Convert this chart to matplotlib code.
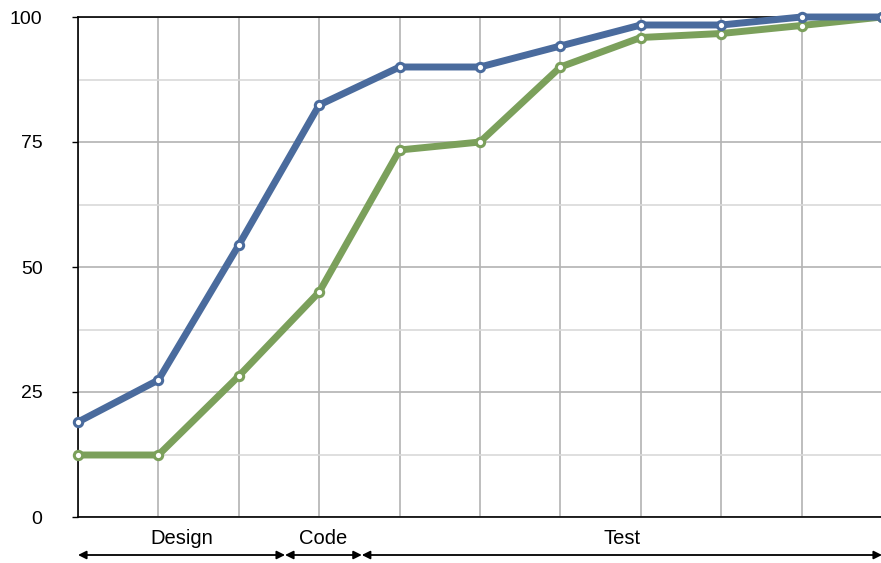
import matplotlib
matplotlib.use("Agg")
import matplotlib.pyplot as plt
import numpy as np

plt.rcParams['font.family'] = ['Liberation Sans', 'DejaVu Sans']

x_idx = list(range(11))
blue = [19.0, 27.4, 54.4, 82.4, 90.0, 90.0, 94.2, 98.4, 98.4, 100.0, 100.0]
green = [12.4, 12.4, 28.2, 45.0, 73.4, 75.0, 90.0, 95.9, 96.7, 98.3, 100.0]
y_ticks = [0, 25, 50, 75, 100]
phases = ["Design", "Code", "Test"]
phase_bounds = [(0, 2.575), (2.575, 3.53), (3.53, 10.0)]

fig = plt.figure(figsize=(8.81, 5.63), dpi=100)
ax = fig.add_axes([78/881, 46/563, 804/881, 500/563])

ax.set_xlim(0, 10)
ax.set_ylim(0, 100)

ax.set_yticks(y_ticks)
ax.set_yticks([12.5, 37.5, 62.5, 87.5], minor=True)
ax.set_xticks(x_idx)
ax.set_xticklabels([])
ax.grid(which='major', axis='both', color='#b3b3b3', linewidth=1.2)
ax.grid(which='minor', axis='y', color='#d9d9d9', linewidth=1.2)
ax.set_axisbelow(True)
ax.tick_params(axis='y', which='major', length=4.5, width=1, pad=21, labelsize=14)
ax.tick_params(axis='y', which='minor', length=0)
ax.tick_params(axis='x', length=0)

for s in ['left', 'bottom', 'top']:
    ax.spines[s].set_color('black')
    ax.spines[s].set_linewidth(1.2)
ax.spines['right'].set_visible(False)

ax.plot(x_idx, blue, color='#4a6b9d', linewidth=5, marker='o', markersize=6,
        markerfacecolor='white', markeredgecolor='#4a6b9d', markeredgewidth=2.2, clip_on=False, zorder=4)
ax.plot(x_idx, green, color='#7ba05b', linewidth=5, marker='o', markersize=6,
        markerfacecolor='white', markeredgecolor='#7ba05b', markeredgewidth=2.2, clip_on=False, zorder=3)

trans = ax.get_xaxis_transform()
for name, (a, b) in zip(phases, phase_bounds):
    ax.annotate('', xy=(a, -0.076), xytext=(b, -0.076), xycoords=trans, textcoords=trans,
                arrowprops=dict(arrowstyle='<|-|>', color='black', lw=1.3,
                                mutation_scale=12, shrinkA=0, shrinkB=0), annotation_clip=False)
    ax.text((a + b) / 2, -0.043, name, transform=trans, ha='center', va='center', fontsize=14.5)

fig.savefig('out.png', dpi=100)
